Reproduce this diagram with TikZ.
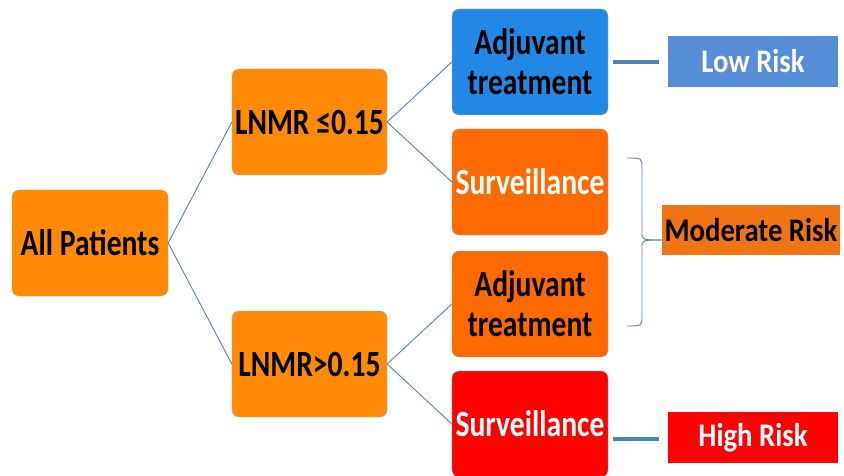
\documentclass[tikz,border=0pt]{standalone}
\usepackage{fontspec}
\setmainfont{Carlito}[FakeStretch=0.87]
\newfontfamily\boxfont{Carlito}[FakeStretch=0.80]
\definecolor{orA}{HTML}{FF8A05}
\definecolor{orB}{HTML}{FF6A00}
\definecolor{blA}{HTML}{2288E6}
\definecolor{rdA}{HTML}{FF0000}
\definecolor{lowrisk}{HTML}{558ED5}
\definecolor{modrisk}{HTML}{F07414}
\definecolor{lineblue}{HTML}{4F81BD}
\begin{document}
\begin{tikzpicture}[x=1pt,y=-1pt,
  box/.style={rounded corners=7pt, minimum width=156pt, minimum height=106pt, inner sep=0pt, align=center,
    font=\boxfont\fontsize{37}{40}\selectfont\bfseries, text=black, draw=white!70!black, line width=0.3pt},
  risk/.style={minimum width=170pt, minimum height=51pt, inner sep=0pt,
    font=\fontsize{33}{36}\selectfont\bfseries},
  link/.style={draw=lineblue, line width=0.9pt},
  thicklink/.style={draw=lineblue, line width=3.2pt}]
\useasboundingbox (0,0) rectangle (844,476);
\node[box, fill=orA] (all) at (90,243) {All Patients};
\node[box, fill=orA, minimum width=155pt] (lo) at (309.5,122) {LNMR ≤0.15};
\node[box, fill=orA, minimum width=155pt] (hi) at (309.5,364) {LNMR>0.15};
\node[box, fill=blA] (adj1) at (530,62) {Adjuvant\\treatment};
\node[box, fill=orB, text=white] (sur1) at (530,182) {Surveillance};
\node[box, fill=orB] (adj2) at (530,304) {Adjuvant\\treatment};
\node[box, fill=rdA, text=white] (sur2) at (530,424) {Surveillance};
\node[risk, fill=lowrisk, text=white] (low) at (753,61.5) {Low Risk};
\node[risk, fill=modrisk, text=black, minimum width=178pt, minimum height=50pt] (mod) at (751,230) {Moderate Risk};
\node[risk, fill=rdA, text=white] (high) at (753,437.5) {High Risk};
% tree links
\draw[link] (all.east) -- (lo.west);
\draw[link] (all.east) -- (hi.west);
\draw[link] (lo.east) -- (adj1.west);
\draw[link] (lo.east) -- (sur1.west);
\draw[link] (hi.east) -- (adj2.west);
\draw[link] (hi.east) -- (sur2.west);
% risk links
\coordinate (l1) at (613,62);
\coordinate (l2) at (659,62);
\coordinate (h1) at (613,439);
\coordinate (h2) at (659,439);
\draw[thicklink] (l1) -- (l2);
\draw[thicklink] (h1) -- (h2);
% brace
\coordinate (b1) at (627,158);
\coordinate (b2) at (627,326);
\coordinate (tip) at (mod.west |- 0,240);
\draw[link] (b1) .. controls (642,158) .. (642,168) -- (642,232) .. controls (642,240) .. (tip);
\draw[link] (tip) .. controls (642,240) .. (642,248) -- (642,316) .. controls (642,326) .. (b2);
\end{tikzpicture}
\end{document}
